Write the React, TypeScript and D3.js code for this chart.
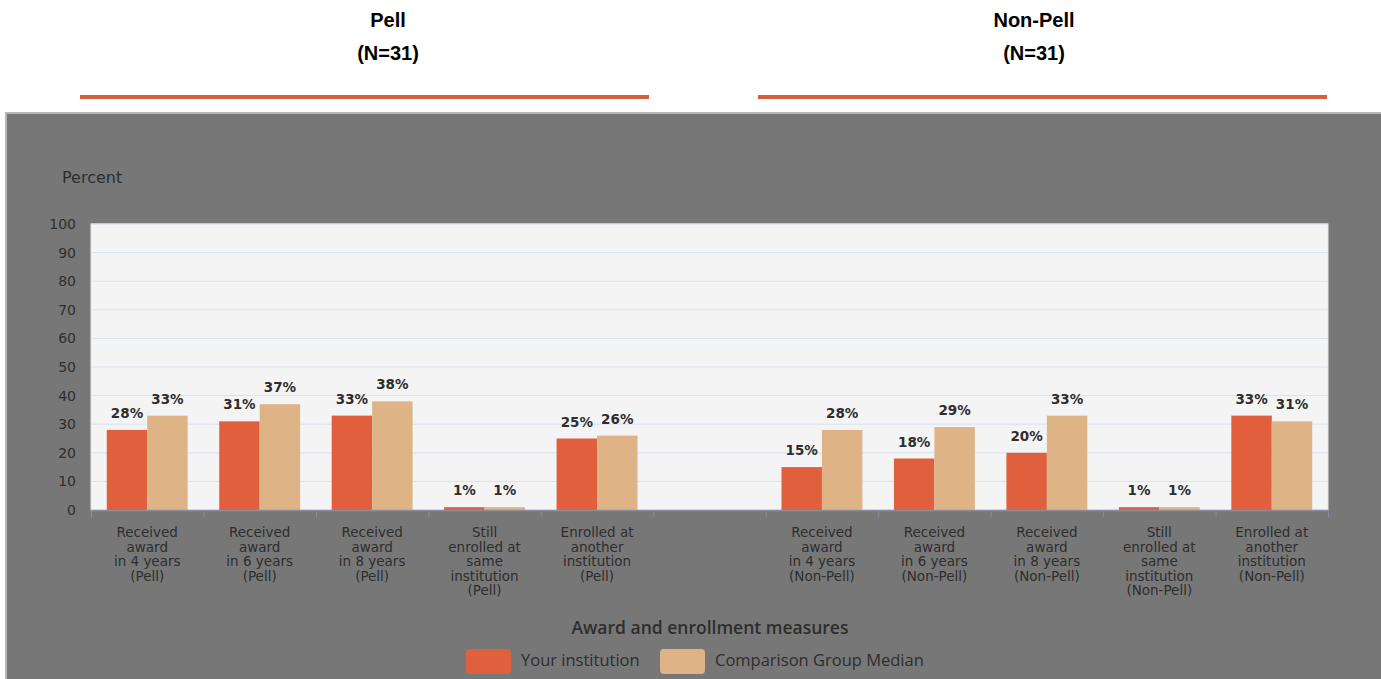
import React from "react";
import * as d3 from "d3";

const categories = [
  "Received award in 4 years (Pell)",
  "Received award in 6 years (Pell)",
  "Received award in 8 years (Pell)",
  "Still enrolled at same institution (Pell)",
  "Enrolled at another institution (Pell)",
  "",
  "Received award in 4 years (Non-Pell)",
  "Received award in 6 years (Non-Pell)",
  "Received award in 8 years (Non-Pell)",
  "Still enrolled at same institution (Non-Pell)",
  "Enrolled at another institution (Non-Pell)",
];
const categoryLines: string[][] = [
  ["Received", "award", "in 4 years", "(Pell)"],
  ["Received", "award", "in 6 years", "(Pell)"],
  ["Received", "award", "in 8 years", "(Pell)"],
  ["Still", "enrolled at", "same", "institution", "(Pell)"],
  ["Enrolled at", "another", "institution", "(Pell)"],
  [],
  ["Received", "award", "in 4 years", "(Non-Pell)"],
  ["Received", "award", "in 6 years", "(Non-Pell)"],
  ["Received", "award", "in 8 years", "(Non-Pell)"],
  ["Still", "enrolled at", "same", "institution", "(Non-Pell)"],
  ["Enrolled at", "another", "institution", "(Non-Pell)"],
];
const yourInstitution: (number | null)[] = [28, 31, 33, 1, 25, null, 15, 18, 20, 1, 33];
const comparisonMedian: (number | null)[] = [33, 37, 38, 1, 26, null, 28, 29, 33, 1, 31];
const seriesNames = ["Your institution", "Comparison Group Median"];
const yTicks = [0, 10, 20, 30, 40, 50, 60, 70, 80, 90, 100];
const groupTitles = [
  { name: "Pell", n: "(N=31)" },
  { name: "Non-Pell", n: "(N=31)" },
];

const W = 1381;
const H = 679;
const RED = "#e05f3c";
const TAN = "#deb487";
const TXT = "#2e2e2e";

export default function App() {
  const left = 91, right = 1328, top = 224, bottom = 510;
  const x = d3.scaleBand<number>().domain(categories.map((_, i) => i)).range([left, right]).paddingInner(0).paddingOuter(0);
  const y = d3.scaleLinear().domain([0, 100]).range([bottom, top]);
  const inner = d3.scaleBand<number>().domain([0, 1]).range([0, x.bandwidth()]).paddingInner(0).paddingOuter(0.39);
  const series = [yourInstitution, comparisonMedian];
  const colors = [RED, TAN];
  const titleFont = "Arial, 'Liberation Sans', sans-serif";
  const chartFont = "'DejaVu Sans', Verdana, sans-serif";
  const legendFont = "'Open Sans', 'Noto Sans', sans-serif";

  return (
    <svg width={W} height={H} style={{ position: "absolute", left: 0, top: 0, display: "block" }} fontFamily={chartFont}>
      <rect x={0} y={0} width={W} height={H} fill="#ffffff" />
      {/* Titles */}
      {groupTitles.map((g, i) => {
        const cx = i === 0 ? 388 : 1034;
        const lx0 = i === 0 ? 80 : 758;
        const lx1 = i === 0 ? 649 : 1327;
        return (
          <g key={i} fontFamily={titleFont}>
            <text x={cx} y={27} textAnchor="middle" fontSize={20} fontWeight="bold" fill="#000">{g.name}</text>
            <text x={cx} y={60} textAnchor="middle" fontSize={20} fontWeight="bold" fill="#000">{g.n}</text>
            <rect x={lx0} y={95} width={lx1 - lx0} height={4} fill="#d35f3d" />
          </g>
        );
      })}
      {/* Panel */}
      <rect x={5} y={112} width={W - 5} height={H - 112} fill="#b8b8b8" />
      <rect x={7} y={114} width={W - 7} height={H - 114} fill="#777777" />
      <text x={62} y={183} fontSize={16} fill={TXT}>Percent</text>
      {/* Plot background */}
      <rect x={left} y={top} width={right - left} height={bottom - top} fill="#f4f4f4" stroke="#e8e8e8" />
      {yTicks.map((t) => (
        <g key={t}>
          {t > 0 && <line x1={left} x2={right} y1={y(t)} y2={y(t)} stroke="#d8e2ee" strokeWidth={1} />}
          <text x={76} y={y(t) + 5} textAnchor="end" fontSize={14} fill={TXT}>{t}</text>
        </g>
      ))}
      {/* Bars */}
      {series.map((s, si) =>
        s.map((v, i) => {
          if (v == null) return null;
          const bx = (x(i) as number) + (inner(si) as number);
          const bw = inner.bandwidth();
          return (
            <g key={`${si}-${i}`}>
              <rect x={bx} y={y(v)} width={bw} height={bottom - y(v)} fill={colors[si]} />
              <text x={bx + bw / 2} y={y(v) - 12} textAnchor="middle" fontSize={13.5} fontWeight="bold" fill={TXT}>{v}%</text>
            </g>
          );
        })
      )}
      {/* X axis */}
      <line x1={left} x2={right} y1={bottom + 0.5} y2={bottom + 0.5} stroke="#8a8aa0" strokeWidth={1.5} />
      {categories.map((_, i) => (
        <line key={i} x1={(x(i) as number) + 0.5} x2={(x(i) as number) + 0.5} y1={bottom} y2={bottom + 7} stroke="#8a8aa0" />
      ))}
      <line x1={right + 0.5} x2={right + 0.5} y1={bottom} y2={bottom + 7} stroke="#8a8aa0" />
      {categoryLines.map((lines, i) => (
        <text key={i} x={(x(i) as number) + x.bandwidth() / 2} y={537} textAnchor="middle" fontSize={13.5} fill={TXT}>
          {lines.map((l, k) => (
            <tspan key={k} x={(x(i) as number) + x.bandwidth() / 2} dy={k === 0 ? 0 : 14.5}>{l}</tspan>
          ))}
        </text>
      ))}
      <text x={710} y={634} textAnchor="middle" fontSize={17.5} fontWeight={600} fill={TXT} fontFamily={legendFont}>Award and enrollment measures</text>
      {/* Legend */}
      {seriesNames.map((n, i) => {
        const lx = i === 0 ? 466 : 660;
        return (
          <g key={n}>
            <rect x={lx} y={649} width={45} height={25} rx={4} fill={colors[i]} />
            <text x={lx + 55} y={666} fontSize={16.5} fill={TXT} fontFamily={legendFont}>{n}</text>
          </g>
        );
      })}
    </svg>
  );
}
